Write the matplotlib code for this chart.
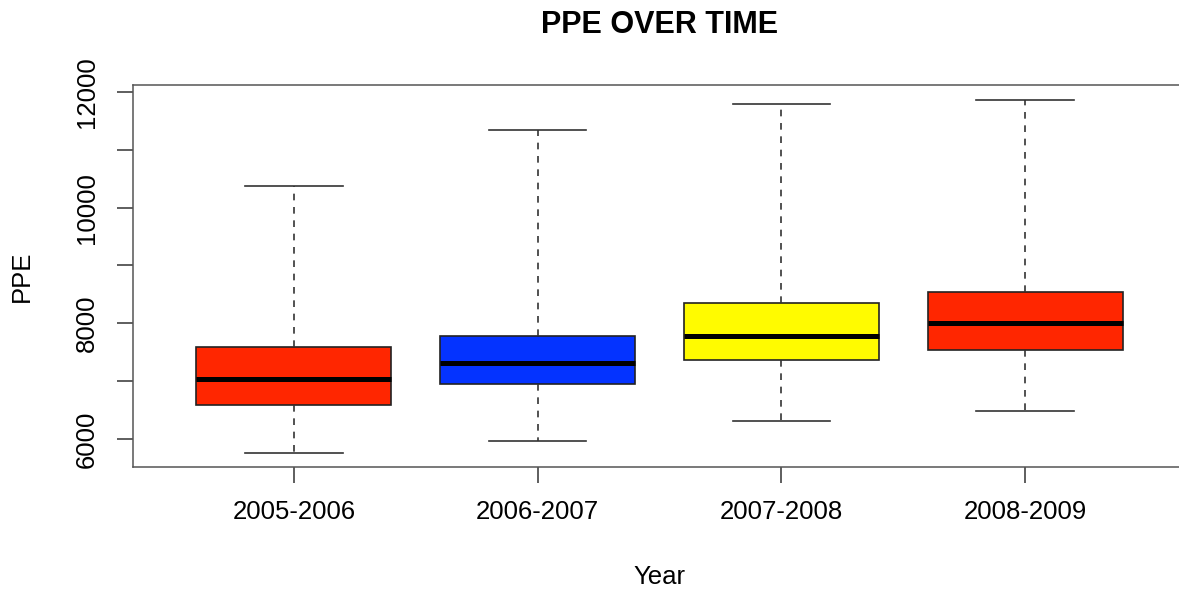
import matplotlib
matplotlib.use("Agg")
import matplotlib.pyplot as plt

plt.rcParams["font.family"] = ["Liberation Sans", "DejaVu Sans"]

# box statistics
years = ["2005-2006", "2006-2007", "2007-2008", "2008-2009"]
whis_lo = [5760, 5965, 6310, 6485]
q1 = [6590, 6950, 7365, 7540]
median = [7035, 7315, 7780, 8005]
q3 = [7590, 7780, 8350, 8540]
whis_hi = [10375, 11345, 11790, 11865]
colors = ["#FF2600", "#0433FF", "#FFFB00", "#FF2600"]

stats = []
for i, y in enumerate(years):
    stats.append({"label": y, "whislo": whis_lo[i], "q1": q1[i], "med": median[i],
                  "q3": q3[i], "whishi": whis_hi[i], "fliers": []})

W, H = 1179, 590
fig = plt.figure(figsize=(W / 100, H / 100), dpi=100)
# plot region runs past the right edge, like the original
ax = fig.add_axes([133 / W, (H - 467) / H, 1053 / W, 382 / H])

bp = ax.bxp(stats, positions=[1, 2, 3, 4], widths=0.8, patch_artist=True,
            showfliers=False,
            boxprops=dict(edgecolor="#222222", linewidth=1.2),
            medianprops=dict(color="black", linewidth=3.6, solid_capstyle="butt"),
            whiskerprops=dict(color="#333333", linewidth=1.2, linestyle=(0, (4, 4))),
            capprops=dict(color="#333333", linewidth=1.2),
            capwidths=0.4)
for patch, c in zip(bp["boxes"], colors):
    patch.set_facecolor(c)

ax.set_xlim(0.34, 4.66)
ax.set_ylim(5515, 12120)

yt = list(range(6000, 12001, 1000))
ax.set_yticks(yt)
ax.set_yticklabels([str(v) if v % 2000 == 0 else "" for v in yt],
                   rotation=90, va="center", fontsize=18.5)
ax.set_xticks([1, 2, 3, 4])
ax.set_xticklabels(years, fontsize=18.5)
ax.tick_params(axis="both", length=11.5, width=1.1, color="#333333")
ax.tick_params(axis="y", pad=13)
ax.tick_params(axis="x", pad=12)

for s in ["left", "top", "bottom"]:
    ax.spines[s].set_color("#555555")
    ax.spines[s].set_linewidth(1.1)
ax.spines["right"].set_visible(False)

ax.set_xlabel("Year", fontsize=18.5, va="baseline")
ax.xaxis.set_label_coords(0.5, (467 - 584) / 382)
ax.set_ylabel("PPE", fontsize=18.5, va="center")
ax.yaxis.set_label_coords((22 - 133) / 1053, 0.5)

fig.text(659.5 / W, (H - 33) / H, "PPE OVER TIME", fontsize=22, fontweight="bold",
         ha="center", va="baseline")

fig.savefig("out.png", dpi=100)
